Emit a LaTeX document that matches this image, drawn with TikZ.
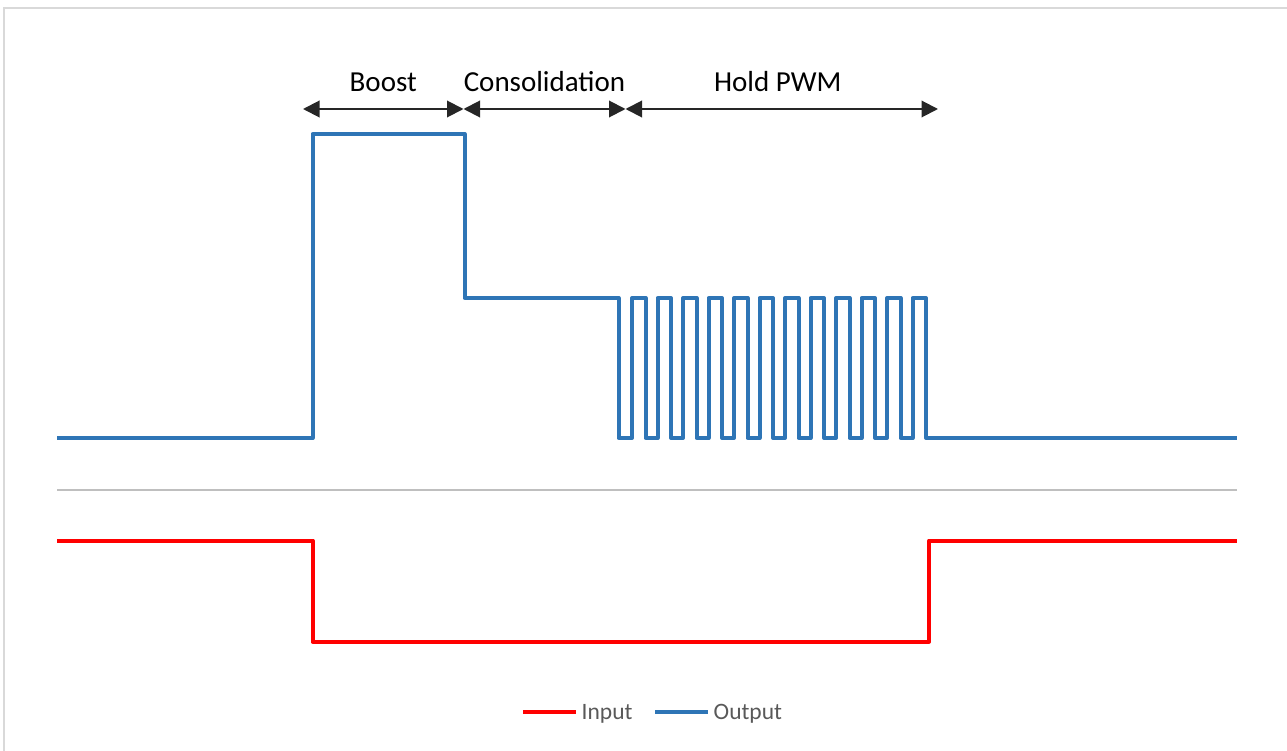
\documentclass[tikz,border=0pt]{standalone}
\usepackage{fontspec}
\setmainfont{Carlito}
\usetikzlibrary{arrows.meta}
\definecolor{azul}{RGB}{46,117,182}
\definecolor{rojo}{RGB}{255,0,0}
\definecolor{gristexto}{RGB}{89,89,89}
\begin{document}
\begin{tikzpicture}[x=1pt,y=-1pt]
	% formatos
	\tikzstyle{every node}=[inner sep=0pt]
	\tikzstyle{salida} = [azul, line width=4pt, line join=round]
	\tikzstyle{entrada} = [rojo, line width=4pt, line join=round]
	\tikzstyle{cota} = [{Triangle[length=16.5pt,width=16.5pt]}-{Triangle[length=16.5pt,width=16.5pt]}, line width=2pt, black!85]
	\tikzstyle{etiqueta} = [font=\fontsize{29}{34}\selectfont, text=black, above=16pt]
	\tikzstyle{leyenda} = [font=\fontsize{23.5}{28}\selectfont, text=gristexto, anchor=base west, inner xsep=5.5pt]
	\useasboundingbox (0,0) rectangle (1287,751);
	\draw [black!15, line width=2pt] (4,751) -- (4,8) -- (1287,8);
	% cotas
	\coordinate (b0) at (303,109);
	\coordinate (b1) at (463.5,109);
	\coordinate (c1) at (625.5,109);
	\coordinate (h1) at (938,109);
	\draw [cota] (b0) to node [etiqueta] {Boost} (b1);
	\draw [cota] (b1) to node [etiqueta] {Consolidation} (c1);
	\draw [cota] (c1) to node [etiqueta, xshift=-4pt] {Hold PWM} (h1);
	% senales
	\draw [salida] (57,438) -- (312.5,438) -- (312.5,134) -- (464.5,134) -- (464.5,298)
		-- (618.5,298) -- (618.5,438) -- (632,438)
		\foreach \k in {1,...,12} { -- ++(0,-140) -- ++(13.5,0) -- ++(0,140) -- ++(12,0) }
		-- (1237,438);
	\draw [black!25, line width=2pt] (57,489.5) -- (1237,489.5);
	\draw [entrada] (57,540.5) -- (312.5,540.5) -- (312.5,641.5) -- (929,641.5)
		-- (929,540.5) -- (1237,540.5);
	% leyenda
	\node [leyenda] (in) at (576,719.5) {Input};
	\node [leyenda] (out) at (708,719.5) {Output};
	\coordinate (in0) at (523,712);
	\coordinate (out0) at (655,712);
	\draw [entrada] (in0) -- (in0 -| in.west);
	\draw [salida] (out0) -- (out0 -| out.west);
\end{tikzpicture}
\end{document}
